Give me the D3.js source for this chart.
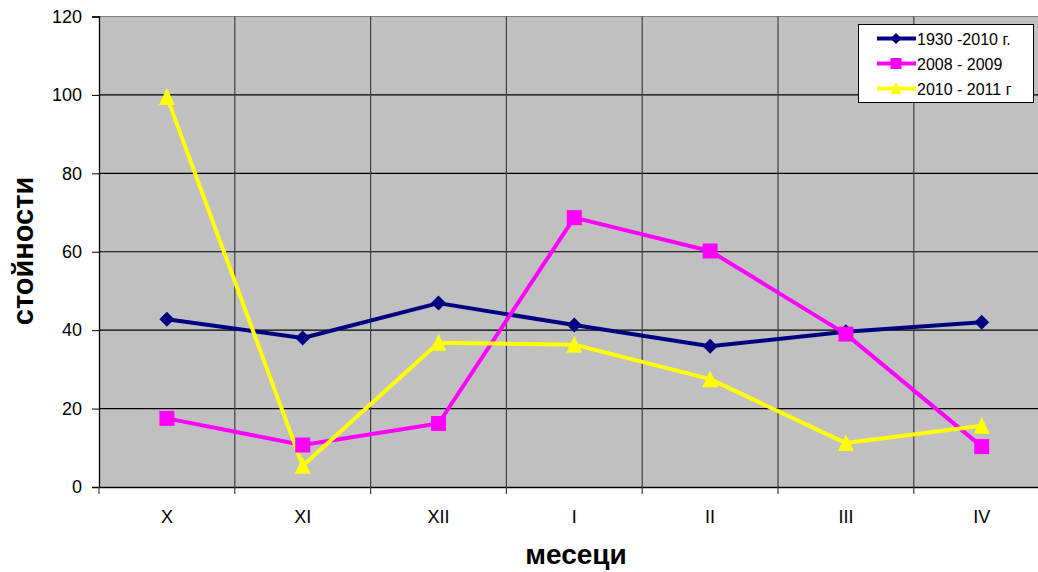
<!DOCTYPE html>
<html><head><meta charset="utf-8">
<script src="https://cdn.jsdelivr.net/npm/d3@7"></script>
<style>body{margin:0;background:#fff}svg{display:block;font-family:Arial,"Liberation Sans",sans-serif}</style>
</head><body><svg id="c" width="1038" height="572"></svg>
<script>
const categories = ["X","XI","XII","I","II","III","IV"];
const seriesNames = ["1930 -2010 г.","2008 - 2009","2010 - 2011 г"];
const s1930 = [42.8, 38.0, 46.9, 41.3, 35.9, 39.6, 42.0];
const s2008 = [17.5, 10.7, 16.2, 68.7, 60.2, 39.0, 10.3];
const s2010 = [99.5, 5.4, 36.8, 36.3, 27.5, 11.2, 15.6];
const yTicks = [0,20,40,60,80,100,120];
const colors = ["#000080","#ff00ff","#ffff00"];

function markerPath(k, r) {
  if (k === 0) return `M0,${-r}L${r},0L0,${r}L${-r},0Z`;
  if (k === 1) return `M${-r},${-r}H${r}V${r}H${-r}Z`;
  return `M0,${-r*1.1}L${r},${r}L${-r},${r}Z`;
}

const svg = d3.select("#c");
const L=99, T=16.5, B=487, W=7*135.8;
const x = d3.scaleBand().domain(categories).range([L, L+W]);
const y = d3.scaleLinear().domain([0,120]).range([B, T]);

svg.append("rect").attr("x",L).attr("y",T).attr("width",W).attr("height",B-T).attr("fill","#c0c0c0");
svg.append("g").selectAll("line").data(yTicks.filter(d=>d>0)).join("line")
  .attr("x1",L).attr("x2",L+W).attr("y1",d=>y(d)).attr("y2",d=>y(d))
  .attr("stroke",d=>d===120?"#808080":"#000").attr("stroke-width",1.2);
svg.append("g").selectAll("line").data(categories.slice(1)).join("line")
  .attr("x1",d=>x(d)).attr("x2",d=>x(d)).attr("y1",T).attr("y2",B)
  .attr("stroke","#404040").attr("stroke-width",1.2);

const yAxis = svg.append("g").attr("transform",`translate(${L},0)`)
  .call(d3.axisLeft(y).tickValues(yTicks).tickSize(7).tickPadding(10));
yAxis.select(".domain").attr("stroke","#000").attr("stroke-width",1.3);
yAxis.selectAll("text").attr("font-size",18).attr("fill","#000").attr("font-family","Arial, 'Liberation Sans', sans-serif");
const xAxis = svg.append("g").attr("transform",`translate(0,${B})`)
  .call(d3.axisBottom(x).tickSize(0).tickPadding(23));
xAxis.select(".domain").attr("stroke","#000").attr("stroke-width",1.5);
xAxis.selectAll("text").attr("font-size",18).attr("fill","#000").attr("font-family","Arial, 'Liberation Sans', sans-serif");
svg.append("g").selectAll("line").data(categories.map(c=>x(c)).concat([L+W])).join("line")
  .attr("x1",d=>d).attr("x2",d=>d).attr("y1",B).attr("y2",B+7).attr("stroke","#404040").attr("stroke-width",1.2);

const all = [s1930, s2008, s2010];
const line = d3.line().x((d,i)=>x(categories[i])+x.bandwidth()/2).y(d=>y(d));
all.forEach((vals, k) => {
  svg.append("path").datum(vals).attr("d", line).attr("fill","none")
    .attr("stroke", colors[k]).attr("stroke-width",4).attr("stroke-linejoin","round");
});
all.forEach((vals, k) => {
  svg.append("g").selectAll("path").data(vals).join("path")
    .attr("transform",(d,i)=>`translate(${x(categories[i])+x.bandwidth()/2},${y(d)})`)
    .attr("d", markerPath(k, k===2?8:7.5))
    .attr("fill", colors[k]);
});

const lg = svg.append("g");
lg.append("rect").attr("x",858.5).attr("y",24.5).attr("width",175).attr("height",78)
  .attr("fill","#fff").attr("stroke","#000").attr("stroke-width",1);
seriesNames.forEach((n,k)=>{
  const yy = 38.5 + k*25;
  lg.append("line").attr("x1",877).attr("x2",916).attr("y1",yy).attr("y2",yy)
    .attr("stroke",colors[k]).attr("stroke-width",4);
  lg.append("path").attr("transform",`translate(896,${yy})`)
    .attr("d", markerPath(k, 5.5)).attr("fill",colors[k]);
  lg.append("text").attr("x",917).attr("y",yy+6).attr("font-size",16).attr("fill","#000").text(n);
});

svg.append("text").attr("transform","translate(33,251) rotate(-90)").attr("text-anchor","middle")
  .attr("font-size",29).attr("font-weight","bold").text("стойности");
svg.append("text").attr("x",576).attr("y",564).attr("text-anchor","middle")
  .attr("font-size",28).attr("font-weight","bold").text("месеци");
</script></body></html>
